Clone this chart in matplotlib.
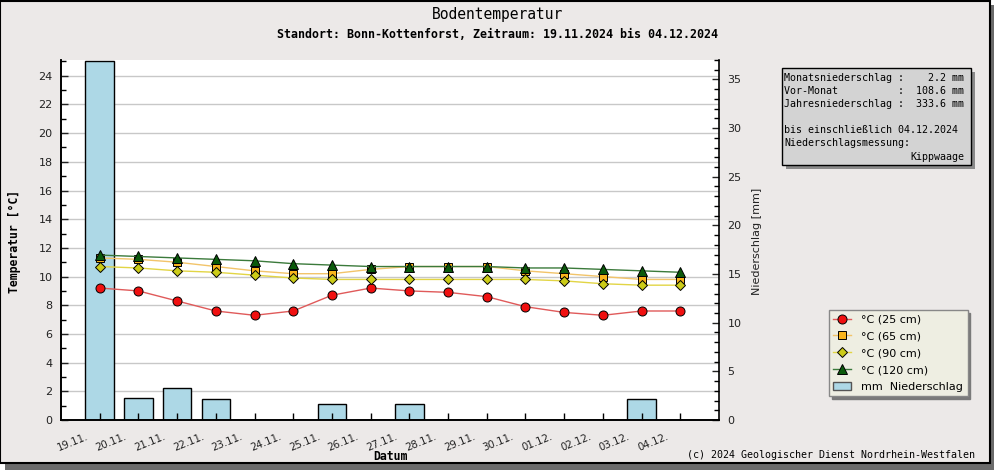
import numpy as np
import matplotlib
matplotlib.use('Agg')
import matplotlib.pyplot as plt
import matplotlib.transforms as mtrans
from matplotlib.patches import Rectangle, Patch
from matplotlib.lines import Line2D
from matplotlib.ticker import MultipleLocator

# Daten
dates = ['19.11.', '20.11.', '21.11.', '22.11.', '23.11.', '24.11.', '25.11.', '26.11.',
         '27.11.', '28.11.', '29.11.', '30.11.', '01.12.', '02.12.', '03.12.', '04.12.']
t25 = [9.2, 9.0, 8.3, 7.6, 7.3, 7.6, 8.7, 9.2, 9.0, 8.9, 8.6, 7.9, 7.5, 7.3, 7.6, 7.6]
t65 = [11.3, 11.2, 11.0, 10.7, 10.4, 10.2, 10.2, 10.5, 10.7, 10.7, 10.7, 10.4, 10.2, 10.0, 9.8, 9.8]
t90 = [10.7, 10.6, 10.4, 10.3, 10.1, 9.9, 9.8, 9.8, 9.8, 9.8, 9.8, 9.8, 9.7, 9.5, 9.4, 9.4]
t120 = [11.5, 11.4, 11.3, 11.2, 11.1, 10.9, 10.8, 10.7, 10.7, 10.7, 10.7, 10.6, 10.6, 10.5, 10.4, 10.3]
niederschlag = [36.9, 2.3, 3.3, 2.2, 0, 0, 1.6, 0, 1.6, 0, 0, 0, 0, 0, 2.2, 0]

info_lines = ['Monatsniederschlag :    2.2 mm',
              'Vor-Monat          :  108.6 mm',
              'Jahresniederschlag :  333.6 mm',
              '',
              'bis einschließlich 04.12.2024',
              'Niederschlagsmessung:']

bg = '#ece9e8'
mono = 'DejaVu Sans Mono'
W, H = 995, 470

fig = plt.figure(figsize=(W / 100, H / 100), dpi=100, facecolor='white')


def fx(px):
    return px / W


def fy(py):
    return 1 - py / H


# Rahmen mit Schatten
fig.add_artist(Rectangle((fx(5), 0), fx(990), 465 / H, transform=fig.transFigure,
                         fc='#6b6b6b', ec='none', zorder=-10))
fig.add_artist(Rectangle((0.0005, fy(463)), fx(990), 462.5 / H, transform=fig.transFigure,
                         fc=bg, ec='black', lw=1.5, zorder=-9))

rect = [fx(61), fy(420), (719 - 61) / W, 360 / H]
ax_t = fig.add_axes(rect)
ax_p = ax_t.twinx()
ax_t.set_zorder(ax_p.get_zorder() + 1)
ax_t.patch.set_visible(False)
ax_p.patch.set_visible(True)
ax_p.patch.set_facecolor('white')

x = np.arange(len(dates))

# Gitter der Temperaturachse, hinter den Balken
grid_tr = mtrans.blended_transform_factory(ax_p.transAxes, ax_t.transData)
for t in range(2, 25, 2):
    ax_p.plot([0, 1], [t, t], transform=grid_tr, color='#c8c8c8', lw=1, zorder=1)

ax_p.bar(x, niederschlag, width=0.74, color='#add8e6', edgecolor='black', linewidth=1, zorder=2)

styles = [
    dict(color='#e05a5a', marker='o', ms=6.5, mfc='#f01010'),
    dict(color='#f2c46a', marker='s', ms=5.5, mfc='#f8b41c'),
    dict(color='#e2d545', marker='D', ms=5.5, mfc='#cccc18'),
    dict(color='#3b7a3b', marker='^', ms=6.5, mfc='#0b5a0b'),
]
for vals, st in zip([t25, t65, t90, t120], styles):
    ax_t.plot(x, vals, lw=1, mec='black', mew=0.7, **st)

ax_t.set_xlim(-1, 16)
ax_t.set_ylim(0, 25.1)
ax_p.set_ylim(0, 37.0)

for a in (ax_t, ax_p):
    a.spines['top'].set_visible(False)
    for s in a.spines.values():
        s.set_linewidth(1.2)
ax_t.spines['right'].set_visible(False)

ax_t.set_yticks(range(0, 25, 2))
ax_t.yaxis.set_minor_locator(MultipleLocator(1))
ax_p.set_yticks(range(0, 36, 5))
ax_p.yaxis.set_minor_locator(MultipleLocator(1))
ax_t.tick_params(axis='y', which='major', direction='in', length=5, width=1, labelsize=8, pad=6, colors='#222222')
ax_t.tick_params(axis='y', which='minor', direction='in', length=3.5, width=1)
ax_p.tick_params(axis='y', which='major', direction='in', length=5, width=1, labelsize=8, pad=6, colors='#222222')
ax_p.tick_params(axis='y', which='minor', direction='in', length=3.5, width=1)

ax_t.set_xticks(x)
ax_t.set_xticklabels(dates, rotation=22, ha='right', va='center', rotation_mode='anchor', fontsize=7.4, color='#222222')
ax_t.tick_params(axis='x', direction='in', length=5, width=1, pad=11.5)
shift = mtrans.ScaledTranslation(-12 / 100, 0, fig.dpi_scale_trans)
for lab in ax_t.get_xticklabels():
    lab.set_transform(lab.get_transform() + shift)

# Titel und Beschriftungen
fig.text(fx(498), fy(14), 'Bodentemperatur', family=mono, fontsize=10.5, ha='center', va='center')
fig.text(fx(498), fy(34), 'Standort: Bonn-Kottenforst, Zeitraum: 19.11.2024 bis 04.12.2024',
         family=mono, fontsize=8.4, weight='bold', ha='center', va='center')
fig.text(fx(15), fy(241), 'Temperatur [°C]', family=mono, fontsize=8.3, weight='bold',
         rotation=90, ha='center', va='center')
fig.text(fx(757), fy(241), 'Niederschlag [mm]', fontsize=8, rotation=90, ha='center', va='center', color='#222222')
fig.text(fx(390), fy(457), 'Datum', family=mono, fontsize=8.3, weight='bold', ha='center', va='center')
fig.text(fx(975), fy(455), '(c) 2024 Geologischer Dienst Nordrhein-Westfalen', family=mono, fontsize=7.2,
         ha='right', va='center')

# Infobox
fig.add_artist(Rectangle((fx(786), fy(169)), (971 - 782) / W, (165 - 68) / H, transform=fig.transFigure,
                         fc='#8a8a8a', ec='none', zorder=3))
fig.add_artist(Rectangle((fx(782), fy(165)), (971 - 782) / W, (165 - 68) / H, transform=fig.transFigure,
                         fc='#d3d3d3', ec='black', lw=1, zorder=3.1))
for i, line in enumerate(info_lines):
    fig.text(fx(784), fy(78 + 13 * i), line, family=mono, fontsize=7.2, ha='left', va='center', zorder=4)
fig.text(fx(964), fy(157), 'Kippwaage', family=mono, fontsize=7.2, ha='right', va='center', zorder=4)

# Legende
handles = [Line2D([], [], lw=1, mec='black', mew=0.7, **st) for st in styles]
handles.append(Patch(facecolor='#add8e6', edgecolor='#555555'))
labels = ['°C (25 cm)', '°C (65 cm)', '°C (90 cm)', '°C (120 cm)', 'mm  Niederschlag']
leg = fig.legend(handles, labels, loc='upper left', bbox_to_anchor=(fx(829), fy(310)),
                 fontsize=8, frameon=True, fancybox=False, framealpha=1, borderaxespad=0,
                 handlelength=1.6, labelspacing=0.62, borderpad=0.4, handletextpad=0.9,
                 shadow={'color': '#7a7a7a', 'alpha': 1})
leg.get_frame().set_facecolor('#eeeee2')
leg.get_frame().set_edgecolor('#888888')
leg.get_frame().set_linewidth(1)

fig.savefig('out.png', dpi=100, facecolor=fig.get_facecolor())
